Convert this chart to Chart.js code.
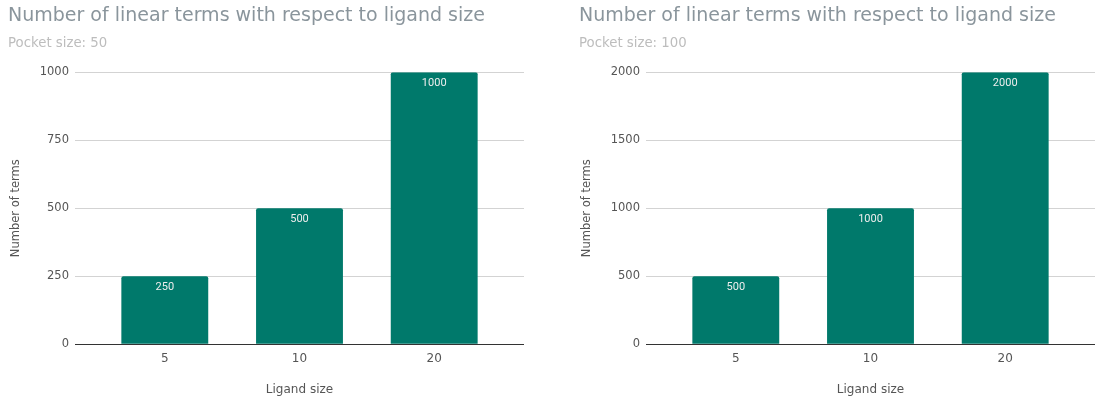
<!DOCTYPE html>
<html>
<head>
<meta charset="utf-8">
<script src="https://cdn.jsdelivr.net/npm/chart.js@4"></script>
<style>
body { margin: 0; background: #fff; overflow: hidden; }
#wrap { position: relative; width: 1096px; height: 400px; }
canvas { position: absolute; top: 0; }
#chart1 { left: 0; }
#chart2 { left: 571px; }
</style>
</head>
<body>
<div id="wrap">
<canvas id="chart1" width="525" height="400"></canvas>
<canvas id="chart2" width="525" height="400"></canvas>
</div>
<script>
var ligandSizes = ["5", "10", "20"];
var termsPocket50 = [250, 500, 1000];
var termsPocket100 = [500, 1000, 2000];
var ticks50 = [0, 250, 500, 750, 1000];
var ticks100 = [0, 500, 1000, 1500, 2000];

var barColor = '#00796b';

var etiquetas = {
    id: 'etiquetas',
    afterDatasetsDraw: function (chart) {
        var ctx = chart.ctx;
        var meta = chart.getDatasetMeta(0);
        ctx.save();
        ctx.font = '11px Roboto';
        ctx.fillStyle = '#eeeeee';
        ctx.textAlign = 'center';
        ctx.textBaseline = 'middle';
        meta.data.forEach(function (bar, i) {
            ctx.fillText(String(chart.data.datasets[0].data[i].y), bar.x, bar.y + 11);
        });
        ctx.restore();
    }
};

function hacerGrafico(id, valores, marcas, subtitulo) {
    return new Chart(document.getElementById(id), {
        type: 'bar',
        data: {
            datasets: [{
                data: valores.map(function (v, i) { return { x: i, y: v }; }),
                backgroundColor: barColor,
                borderRadius: 2,
                categoryPercentage: 1,
                barPercentage: 0.645
            }]
        },
        plugins: [etiquetas],
        options: {
            responsive: false,
            animation: false,
            layout: { padding: { left: 8, right: 1, top: 0, bottom: 0 } },
            plugins: {
                legend: { display: false },
                tooltip: { enabled: false },
                title: {
                    display: true,
                    text: 'Number of linear terms with respect to ligand size',
                    align: 'start',
                    color: '#8a959c',
                    font: { family: 'DejaVu Sans', size: 19, weight: 'normal' },
                    padding: { top: 5, bottom: 7.4 }
                },
                subtitle: {
                    display: true,
                    text: subtitulo,
                    align: 'start',
                    color: '#bdbdbd',
                    font: { family: 'DejaVu Sans', size: 13.3 },
                    padding: { top: 0, bottom: 21 }
                }
            },
            scales: {
                x: {
                    type: 'linear',
                    offset: false,
                    min: -2 / 3,
                    max: 8 / 3,
                    afterBuildTicks: function (scale) {
                        scale.ticks = ligandSizes.map(function (c, i) { return { value: i }; });
                    },
                    grid: { display: false, drawTicks: false },
                    border: { display: false },
                    ticks: {
                        padding: 7,
                        color: '#555',
                        font: { family: 'DejaVu Sans', size: 12 },
                        callback: function (v) { return ligandSizes[v]; }
                    },
                    title: {
                        display: true,
                        text: 'Ligand size',
                        color: '#555',
                        font: { family: 'DejaVu Sans', size: 12 },
                        padding: { top: 10, bottom: 3 }
                    }
                },
                y: {
                    min: 0,
                    max: marcas[marcas.length - 1],
                    afterBuildTicks: function (scale) {
                        scale.ticks = marcas.map(function (m) { return { value: m }; });
                    },
                    afterFit: function (scale) { scale.width = 67; },
                    grid: {
                        drawTicks: false,
                        color: function (c) { return c.tick && c.tick.value === 0 ? '#333' : '#d3d3d3'; }
                    },
                    border: { display: false },
                    ticks: {
                        padding: 6,
                        color: '#555',
                        font: { family: 'DejaVu Sans', size: 11.5 },
                        callback: function (v) { return String(v); }
                    },
                    title: {
                        display: true,
                        text: 'Number of terms',
                        color: '#555',
                        font: { family: 'DejaVu Sans', size: 11.5 },
                        padding: { top: 1.5, bottom: 0 }
                    }
                }
            }
        }
    });
}

var grafico1 = hacerGrafico('chart1', termsPocket50, ticks50, 'Pocket size: 50');
var grafico2 = hacerGrafico('chart2', termsPocket100, ticks100, 'Pocket size: 100');
</script>
</body>
</html>
